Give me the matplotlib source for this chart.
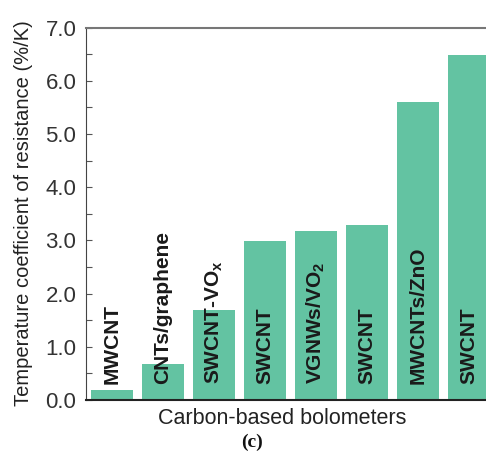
import matplotlib.pyplot as plt
from matplotlib.ticker import MultipleLocator


LABELS = ['MWCNT', 'CNTs/graphene', 'SWCNT-VO$_\\mathregular{x}$', 'SWCNT',
          'VGNWs/VO$_\\mathregular{2}$', 'SWCNT', 'MWCNTs/ZnO', 'SWCNT']
TCR = [0.19, 0.67, 1.69, 2.99, 3.18, 3.29, 5.6, 6.49]
Y_TICKS = [0.0, 1.0, 2.0, 3.0, 4.0, 5.0, 6.0, 7.0]


def main():
    plt.rcParams['font.family'] = ['Liberation Sans', 'DejaVu Sans']
    plt.rcParams['mathtext.fontset'] = 'custom'
    plt.rcParams['mathtext.rm'] = 'Liberation Sans:bold'

    fig = plt.figure(figsize=(4.86, 4.59), dpi=100)
    ax = fig.add_axes([0.177, 0.1285, 0.84, 0.8115])

    x = list(range(len(TCR)))
    ax.bar(x, TCR, width=0.82, color='#63C3A2')
    for xi, lab in zip(x, LABELS):
        ax.text(xi, 0.3, lab, rotation=90, ha='center', va='bottom',
                fontsize=15, fontweight='bold', color='#1a1a1a')

    ax.set_xlim(-0.51, 7.49)
    ax.set_ylim(0, 7.0)
    ax.set_yticks(Y_TICKS)
    ax.set_yticklabels(['%.1f' % v for v in Y_TICKS])
    ax.yaxis.set_minor_locator(MultipleLocator(0.5))
    ax.set_xticks([])
    ax.tick_params(axis='y', which='both', direction='in', length=4, pad=7,
                   width=0.8, labelsize=16, labelcolor='#333333', color='#555555')

    ax.spines['right'].set_visible(False)
    ax.spines['top'].set_color('#777777')
    ax.spines['top'].set_linewidth(1.5)
    ax.spines['left'].set_color('#444444')
    ax.spines['left'].set_linewidth(0.8)
    ax.spines['bottom'].set_color('#222222')
    ax.spines['bottom'].set_linewidth(1.5)

    fig.text(24 / 486, 1 - 213 / 459, 'Temperature coefficient of resistance (%/K)',
             rotation=90, fontsize=14.5, color='#222222', ha='center', va='center')
    fig.text(282.5 / 486, 1 - 419 / 459, 'Carbon-based bolometers', fontsize=15.5,
             color='#222222', ha='center', va='center')
    fig.text(252 / 486, 1 - 442 / 459, '(c)', fontsize=14, fontweight='bold',
             family='Liberation Serif', ha='center', va='center', color='#111111')

    fig.savefig('out.png', dpi=100)


if __name__ == '__main__':
    main()
